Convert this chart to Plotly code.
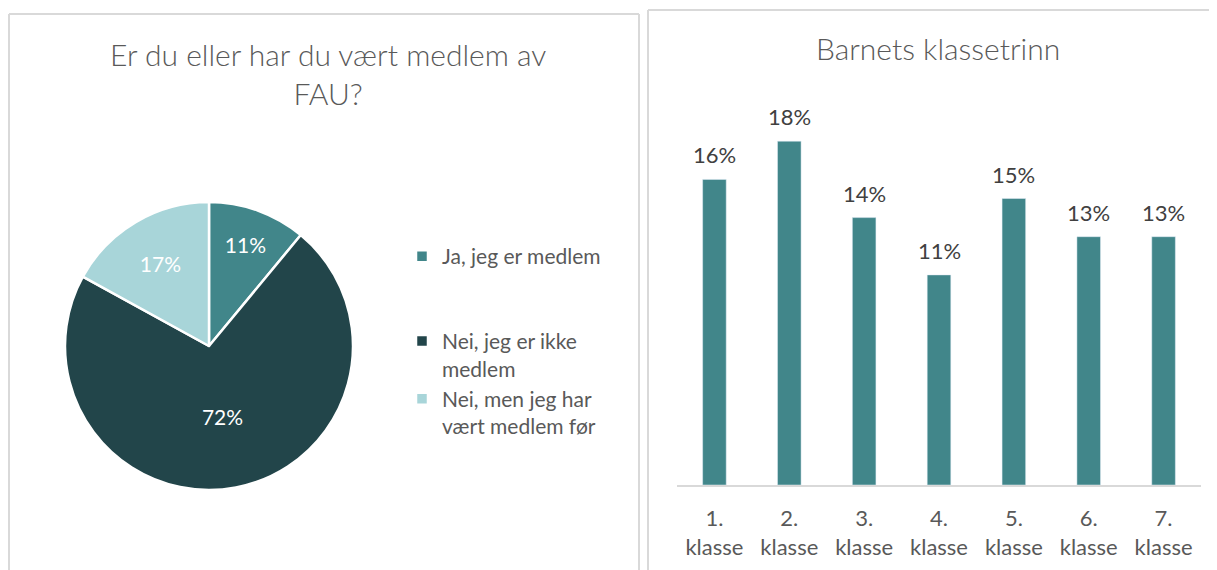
import plotly.graph_objects as go

# ---- data ----
pie_labels = ["Ja, jeg er medlem<br> <br> ", "Nei, jeg er ikke<br>medlem", "Nei, men jeg har<br>vært medlem før"]
pie_values = [11, 72, 17]
pie_colors = ["#41868A", "#22454A", "#A8D5D9"]
pie_title = "Er du eller har du vært medlem av<br>FAU?"

bar_categories = ["1.<br>klasse", "2.<br>klasse", "3.<br>klasse", "4.<br>klasse",
                  "5.<br>klasse", "6.<br>klasse", "7.<br>klasse"]
bar_values = [16, 18, 14, 11, 15, 13, 13]
bar_title = "Barnets klassetrinn"

# page has an 8px body margin; the figure fills the rest of the window
OFF = 8
W, H = 1217 - OFF, 570 - OFF
FONT = "Lato"
GREY = "#595959"

def px_x(p):
    return (p - OFF) / W

def px_y(p):
    return 1 - (p - OFF) / H

fig = go.Figure()

fig.add_trace(go.Pie(
    labels=pie_labels,
    values=pie_values,
    sort=False,
    direction="clockwise",
    rotation=0,
    marker=dict(colors=pie_colors, line=dict(color="white", width=2.5)),
    texttemplate="%{percent:.0%}",
    textposition="inside",
    insidetextorientation="horizontal",
    textfont=dict(family=FONT, size=21, color="white"),
    domain=dict(x=[px_x(65), px_x(353)], y=[px_y(490), px_y(202)]),
    hoverinfo="label+percent",
    showlegend=True,
))

fig.add_trace(go.Bar(
    x=bar_categories,
    y=bar_values,
    marker=dict(color="#41868A"),
    showlegend=False,
    xaxis="x",
    yaxis="y",
))

annotations = []
for c, v in zip(bar_categories, bar_values):
    annotations.append(dict(
        x=c, y=v, xref="x", yref="y", text=f"{v}%",
        showarrow=False, yanchor="bottom", yshift=9,
        font=dict(family=FONT, size=22, color="#404040"),
    ))

annotations.append(dict(
    x=px_x(328), y=px_y(73), xref="paper", yref="paper",
    text=pie_title, showarrow=False, xanchor="center", yanchor="middle",
    font=dict(family=FONT, size=30, color=GREY, weight=300),
))
annotations.append(dict(
    x=px_x(938), y=px_y(48), xref="paper", yref="paper",
    text=bar_title, showarrow=False, xanchor="center", yanchor="middle",
    font=dict(family=FONT, size=30, color=GREY, weight=300),
))

border = dict(color="#D9D9D9", width=2)
shapes = [
    # left panel
    dict(type="line", xref="paper", yref="paper", x0=px_x(9), x1=px_x(9), y0=px_y(14), y1=px_y(600), line=border),
    dict(type="line", xref="paper", yref="paper", x0=px_x(9), x1=px_x(639), y0=px_y(14), y1=px_y(14), line=border),
    dict(type="line", xref="paper", yref="paper", x0=px_x(639), x1=px_x(639), y0=px_y(14), y1=px_y(600), line=border),
    # right panel
    dict(type="line", xref="paper", yref="paper", x0=px_x(648), x1=px_x(648), y0=px_y(10), y1=px_y(600), line=border),
    dict(type="line", xref="paper", yref="paper", x0=px_x(648), x1=px_x(1230), y0=px_y(10), y1=px_y(10), line=border),
]

fig.update_layout(
    width=W, height=H,
    margin=dict(l=0, r=0, t=0, b=0),
    paper_bgcolor="white", plot_bgcolor="white",
    font=dict(family=FONT, color=GREY),
    bargap=0.685,
    xaxis=dict(
        domain=[px_x(677), px_x(1201)],
        showgrid=False, zeroline=False,
        showline=True, linecolor="#D9D9D9", linewidth=1.5,
        ticks="", tickfont=dict(family=FONT, size=22, color=GREY),
        ticklabelstandoff=13,
        fixedrange=True,
    ),
    yaxis=dict(
        domain=[px_y(485), px_y(103)],
        range=[0, 20],
        visible=False, showgrid=False, zeroline=False,
        fixedrange=True,
    ),
    legend=dict(
        x=px_x(402), y=px_y(236), xanchor="left", yanchor="top",
        font=dict(family=FONT, size=21, color=GREY),
        valign="top",
        bgcolor="rgba(0,0,0,0)",
    ),
    annotations=annotations,
    shapes=shapes,
)

fig.write_html("out.html")
